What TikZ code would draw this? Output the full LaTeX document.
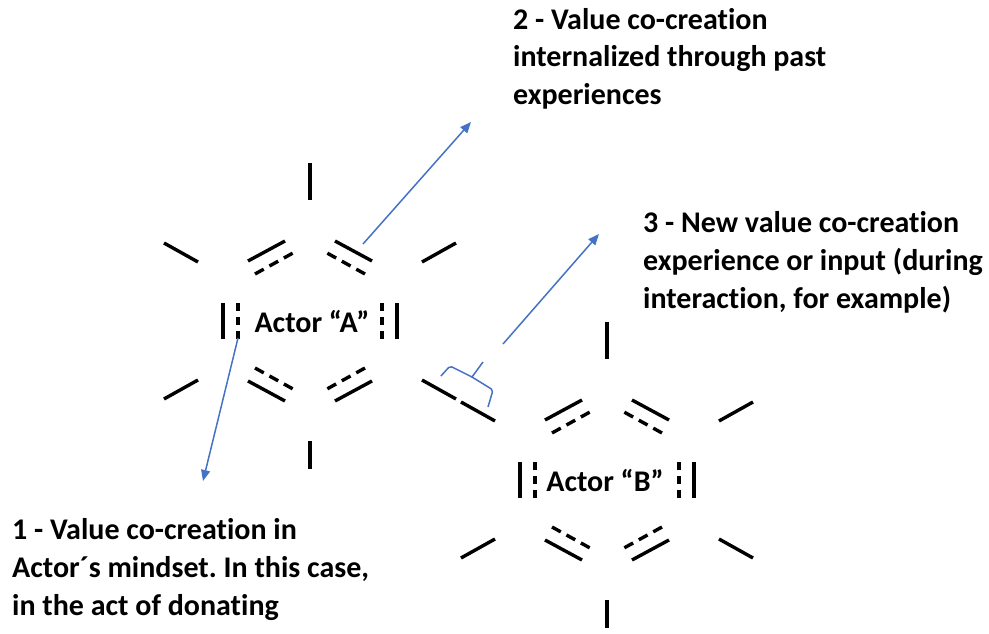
\documentclass[tikz,border=0pt]{standalone}
\usepackage{fontspec}
\setmainfont{Carlito}[Ligatures=NoCommon]
\usetikzlibrary{arrows.meta,calc}

\definecolor{linkblue}{RGB}{68,114,196}

\tikzset{
  bond/.style={line width=3.4pt, black},
  halfbond/.style={bond, dash pattern=on #1 off 6.5pt},
  halfbond/.default=10pt,
  link/.style={linkblue, line width=1.5pt},
  linkarrow/.style={link, -{Triangle[length=11pt,width=9pt]}},
  note/.style={align=left, inner sep=0pt, anchor=base west,
    font=\fontsize{30}{38}\selectfont\bfseries\frenchspacing},
  actor/.style={inner sep=0pt, anchor=base, font=\fontsize{30}{36}\selectfont\bfseries}
}

% ring of bonds around an actor, centre at (#1,#2)
\newcommand\bondring[2]{
  \begin{scope}[shift={(#1,#2)}]
    \draw[bond] (0,-158) -- (0,-121);
    \draw[bond] (0,120) -- (0,148);
    \foreach \sx in {1,-1} {
      \draw[bond] (\sx*87,-18) -- (\sx*87,18);
      \draw[halfbond=7.7pt] (\sx*72,-18) -- (\sx*72,18);
      \foreach \sy in {1,-1} {
        \draw[bond] (\sx*112,\sy*59) -- (\sx*146,\sy*78);
        \draw[bond] (\sx*25,\sy*80) -- (\sx*62,\sy*60);
        \draw[halfbond] (\sx*55,\sy*47) -- (\sx*17,\sy*68);
      }
    }
  \end{scope}
}

\begin{document}
\begin{tikzpicture}[x=1pt,y=-1pt]
  \useasboundingbox (0,0) rectangle (989,634);

  % the two actors
  \bondring{310}{321}
  \bondring{607}{480}
  \node[actor] (actA) at (312,332) {Actor “A”};
  \node[actor] (actB) at (605,491) {Actor “B”};

  % notes (anchored on the last line)
  \node[note] (n1) at (12,615) {1 - Value co-creation in\\Actor´s mindset. In this case,\\in the act of donating};
  \node[note] (n2) at (513,105) {2 - Value co-creation\\internalized through past\\experiences};
  \node[note] (n3) at (643,308) {3 - New value co-creation\\experience or input (during\\interaction, for example)};

  % brace over the shared bond
  \coordinate (brL) at (441,376);
  \coordinate (brL2) at (450,366);
  \coordinate (brM) at (472,377);
  \coordinate (brR2) at (493,390);
  \coordinate (brR) at (488,407);
  \coordinate (brTip) at (483,362);
  \draw[link, rounded corners=2pt] (brL) -- (brL2) -- (brM) -- (brR2) -- (brR);
  \draw[link] (brM) -- (brTip);

  % arrows to the notes
  \coordinate (from1) at (238,338);
  \coordinate (to1) at (203,481);
  \coordinate (from2) at (363,244);
  \coordinate (to2) at (471,122);
  \coordinate (from3) at (503,344);
  \coordinate (to3) at (599,234);
  \draw[linkarrow] (from1) -- (to1);
  \draw[linkarrow] (from2) -- (to2);
  \draw[linkarrow] (from3) -- (to3);
\end{tikzpicture}
\end{document}
